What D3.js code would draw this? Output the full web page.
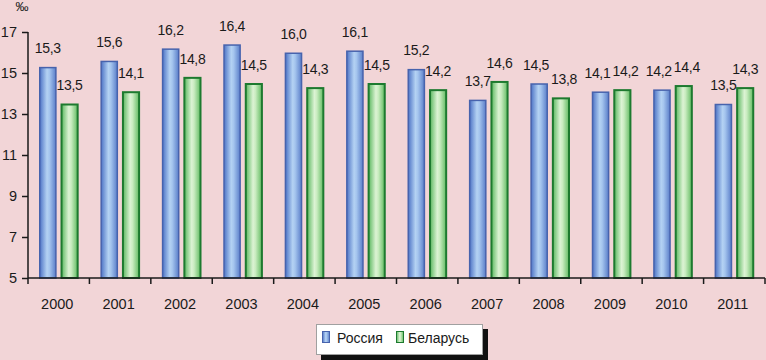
<!DOCTYPE html>
<html><head><meta charset="utf-8">
<script src="https://cdn.jsdelivr.net/npm/d3@7/dist/d3.min.js"></script>
<style>
html,body{margin:0;padding:0;background:#f2d5d7;}
svg{display:block;}
text{font-family:"Liberation Sans",Arial,sans-serif;fill:#1a1a1a;}
</style></head>
<body>
<svg id="chart" width="766" height="360"></svg>
<script>
const years = ["2000","2001","2002","2003","2004","2005","2006","2007","2008","2009","2010","2011"];
const russia = [15.3,15.6,16.2,16.4,16.0,16.1,15.2,13.7,14.5,14.1,14.2,13.5];
const belarus = [13.5,14.1,14.8,14.5,14.3,14.5,14.2,14.6,13.8,14.2,14.4,14.3];
const seriesNames = ["Россия","Беларусь"];
const yTicks = [5,7,9,11,13,15,17];
const unitLabel = "‰";

(function(){
const svg = d3.select("#chart");
const mLeft = 28, mRight = 765, mTop = 32, mBottom = 278;

const defs = svg.append("defs");
function grad(id, stops){
  const g = defs.append("linearGradient").attr("id", id).attr("x1","0%").attr("x2","100%").attr("y1","0%").attr("y2","0%");
  stops.forEach(s => g.append("stop").attr("offset", s[0]).attr("stop-color", s[1]));
}
grad("gBlue", [["0%","#4e74c6"],["45%","#b4d2f3"],["60%","#a5c5ee"],["100%","#5a7ec9"]]);
grad("gGreen", [["0%","#5cb860"],["45%","#dcf3d4"],["60%","#c9ecc0"],["100%","#62bb62"]]);

const x0 = d3.scaleBand().domain(years).range([mLeft, mRight]).padding(0);
const x1 = d3.scaleBand().domain(seriesNames).range([11, x0.bandwidth() - 11]).paddingInner(0.19);
const y = d3.scaleLinear().domain([5,17]).range([mBottom, mTop]);

const fills = {"Россия":"url(#gBlue)","Беларусь":"url(#gGreen)"};
const strokes = {"Россия":"#4763ad","Беларусь":"#1d7a2f"};
const data = years.map((yr,i)=>({year:yr, values:[{s:"Россия",v:russia[i]},{s:"Беларусь",v:belarus[i]}]}));

// bars
const groups = svg.append("g").selectAll("g").data(data).join("g")
  .attr("transform", d => `translate(${x0(d.year)},0)`);
groups.selectAll("rect").data(d => d.values).join("rect")
  .attr("x", d => x1(d.s)+0.75)
  .attr("y", d => y(d.v)+0.75)
  .attr("width", x1.bandwidth()-1.5)
  .attr("height", d => mBottom - y(d.v) - 0.75)
  .attr("fill", d => fills[d.s])
  .attr("stroke", d => strokes[d.s])
  .attr("stroke-width", d => d.s==="Россия" ? 1.5 : 2);
groups.selectAll("text").data(d => d.values).join("text")
  .attr("x", d => x1(d.s) + x1.bandwidth()/2)
  .attr("y", d => y(d.v) - 13.5)
  .attr("text-anchor","middle")
  .style("font-size","14px")
  .style("letter-spacing","-0.3px")
  .text(d => d3.format(".1f")(d.v).replace(".", ","));

// dodge colliding labels within a group (spread horizontally)
groups.each(function(){
  const t = d3.select(this).selectAll("text").nodes();
  if (t.length < 2) return;
  const a = t[0].getBBox(), b = t[1].getBBox();
  const vOverlap = !(a.y + a.height <= b.y + 1 || b.y + b.height <= a.y + 1);
  const hOverlap = (a.x + a.width) - b.x;
  if (vOverlap && hOverlap > -1) {
    const shift = (hOverlap + 1.5) / 2;
    d3.select(t[0]).attr("x", +t[0].getAttribute("x") - shift);
    d3.select(t[1]).attr("x", +t[1].getAttribute("x") + shift);
  }
});

// y axis
const yAxis = svg.append("g").attr("transform", `translate(${mLeft},0)`)
  .call(d3.axisLeft(y).tickValues(yTicks).tickSize(6).tickPadding(5).tickFormat(d3.format("d")));
yAxis.select(".domain").attr("stroke","#1a1a1a").attr("stroke-width",1.5).attr("d", `M0,${mTop}V${mBottom}`);
yAxis.selectAll(".tick line").attr("stroke","#1a1a1a").attr("stroke-width",1.5);
yAxis.selectAll(".tick text").style("font-size","14.5px").attr("fill","#1a1a1a").style("font-family",'"Liberation Sans",Arial,sans-serif');

// x axis
const xAxisG = svg.append("g");
xAxisG.append("line").attr("x1",mLeft).attr("x2",mRight).attr("y1",mBottom).attr("y2",mBottom)
  .attr("stroke","#1a1a1a").attr("stroke-width",1.5);
const bounds = years.map(yr => x0(yr)).concat([x0(years[years.length-1]) + x0.bandwidth()]);
xAxisG.selectAll("line.tk").data(bounds).join("line").attr("class","tk")
  .attr("x1", d=>d).attr("x2", d=>d).attr("y1", mBottom).attr("y2", mBottom+6)
  .attr("stroke","#1a1a1a").attr("stroke-width",1.5);
xAxisG.selectAll("text").data(years).join("text")
  .attr("x", d => x0(d) + x0.bandwidth()/2 - 1.5)
  .attr("y", 309)
  .attr("text-anchor","middle")
  .style("font-size","14.5px")
  .text(d => d);

// unit label
svg.append("text").attr("x", 22).attr("y", 11).attr("text-anchor","middle")
  .style("font-size","13px").text(unitLabel);

// legend
const lg = svg.append("g");
lg.append("rect").attr("x", 321).attr("y", 329).attr("width", 167).attr("height", 31).attr("fill","#111");
lg.append("rect").attr("x", 316.5).attr("y", 324.5).attr("width", 166).attr("height", 30)
  .attr("fill","#ffffff").attr("stroke","#a0a0a0").attr("stroke-width",1);
const legendItems = [{s:"Россия", sx:322.5, tx:337},{s:"Беларусь", sx:396.5, tx:408}];
legendItems.forEach(it => {
  lg.append("rect").attr("x", it.sx).attr("y", 331.5).attr("width", 7).attr("height", 11)
    .attr("fill", fills[it.s]).attr("stroke", strokes[it.s]).attr("stroke-width",1);
  lg.append("text").attr("x", it.tx).attr("y", 343).style("font-size","14px").text(it.s);
});
})();
</script>
</body></html>
